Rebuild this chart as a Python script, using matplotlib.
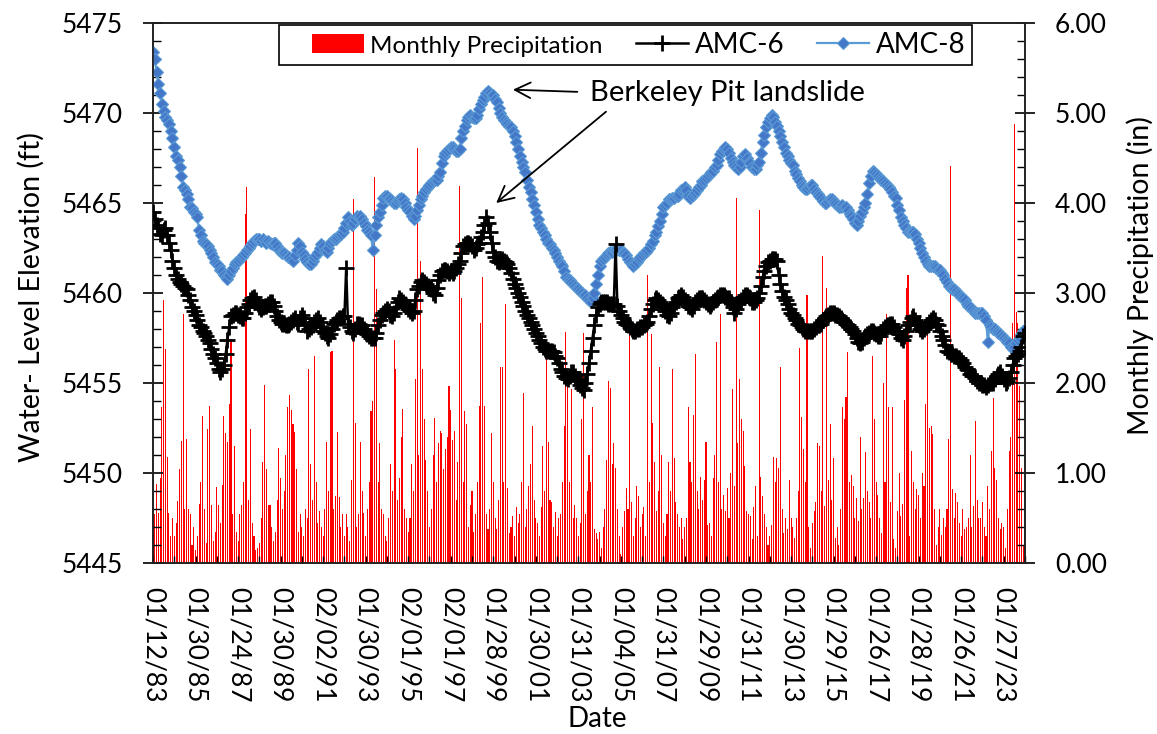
import matplotlib
matplotlib.use("Agg")
import matplotlib.pyplot as plt
from matplotlib.patches import Patch, Rectangle
from matplotlib.lines import Line2D
from matplotlib.ticker import MultipleLocator, FixedLocator, FormatStrFormatter
import numpy as np

plt.rcParams['font.family'] = ['Lato', 'DejaVu Sans']

# ---------------- data (monthly, Jan 1983 .. Jan 2024) ----------------
tick_labels = ["01/12/83", "01/30/85", "01/24/87", "01/30/89", "02/02/91", "01/30/93",
               "02/01/95", "02/01/97", "01/28/99", "01/30/01", "01/31/03", "01/04/05",
               "01/31/07", "01/29/09", "01/31/11", "01/30/13", "01/29/15", "01/26/17",
               "01/28/19", "01/26/21", "01/27/23"]

amc8 = [
    5473.4, 5473.0, 5472.3, 5471.6, 5471.1, 5470.5, 5470.1, 5469.8, 5469.6, 5469.4, 5469.0, 5468.6,
    5468.1, 5467.6, 5467.4, 5467.0, 5466.5, 5465.9, 5465.7, 5465.5, 5465.2, 5464.8, 5464.7, 5464.5,
    5464.4, 5464.2, 5463.5, 5463.2, 5462.9, 5462.8, 5462.7, 5462.6, 5462.4, 5462.2, 5462.0, 5461.7,
    5461.6, 5461.5, 5461.3, 5461.2, 5461.0, 5460.9, 5460.8, 5461.0, 5461.2, 5461.4, 5461.6, 5461.7,
    5461.8, 5461.9, 5462.0, 5462.1, 5462.2, 5462.4, 5462.5, 5462.6, 5462.8, 5462.9, 5463.0, 5463.0,
    5463.0, 5462.9, 5463.0, 5462.9, 5462.8, 5462.9, 5462.8, 5462.7, 5462.8, 5462.8, 5462.6, 5462.4,
    5462.3, 5462.2, 5462.2, 5462.1, 5462.0, 5462.0, 5461.9, 5461.8, 5462.1, 5462.4, 5462.8, 5462.6,
    5462.3, 5462.1, 5461.9, 5461.7, 5461.6, 5461.6, 5461.8, 5462.0, 5462.1, 5462.3, 5462.5, 5462.7,
    5462.6, 5462.4, 5462.3, 5462.5, 5462.8, 5462.9, 5463.0, 5463.0, 5463.1, 5463.2, 5463.3, 5463.4,
    5463.6, 5463.9, 5464.2, 5464.0, 5463.8, 5463.9, 5464.1, 5464.3, 5464.2, 5464.3, 5464.1, 5463.9,
    5463.7, 5463.5, 5463.4, 5463.2, 5462.4, 5463.2, 5463.8, 5464.2, 5464.5, 5464.9, 5465.3, 5465.4,
    5465.4, 5465.3, 5465.2, 5465.1, 5465.0, 5465.0, 5465.1, 5465.2, 5465.3, 5465.2, 5465.0, 5464.8,
    5464.6, 5464.5, 5464.3, 5464.1, 5464.3, 5464.6, 5464.9, 5465.2, 5465.4, 5465.6, 5465.8, 5465.9,
    5466.0, 5466.1, 5466.2, 5466.3, 5466.3, 5466.5, 5466.7, 5467.2, 5467.6, 5467.8, 5467.9, 5468.0,
    5468.1, 5468.1, 5468.0, 5467.9, 5467.9, 5468.0, 5468.6, 5469.0, 5469.3, 5469.6, 5469.8, 5469.9,
    5469.8, 5469.7, 5469.7, 5469.9, 5470.2, 5470.5, 5470.7, 5470.9, 5471.1, 5471.2, 5471.1, 5471.0,
    5471.0, 5470.8, 5470.6, 5470.3, 5470.0, 5469.8, 5469.6, 5469.5, 5469.4, 5469.3, 5469.2, 5469.0,
    5468.7, 5468.4, 5468.0, 5467.6, 5467.3, 5467.0, 5466.7, 5466.3, 5465.9, 5465.6, 5465.2, 5464.9,
    5464.5, 5464.1, 5463.8, 5463.6, 5463.4, 5463.2, 5463.0, 5462.8, 5462.7, 5462.5, 5462.4, 5462.2,
    5462.0, 5461.8, 5461.6, 5461.5, 5461.2, 5460.9, 5460.8, 5460.7, 5460.6, 5460.5, 5460.4, 5460.3,
    5460.2, 5460.1, 5460.0, 5459.9, 5459.9, 5459.7, 5459.6, 5459.5, 5459.7, 5460.0, 5460.5, 5461.0,
    5461.5, 5461.8, 5461.9, 5462.0, 5462.1, 5462.2, 5462.3, 5462.3, 5462.4, 5462.4, 5462.5, 5462.4,
    5462.4, 5462.3, 5462.2, 5462.1, 5461.9, 5461.7, 5461.6, 5461.5, 5461.6, 5461.7, 5461.9, 5462.0,
    5462.1, 5462.2, 5462.3, 5462.4, 5462.5, 5462.7, 5462.9, 5463.2, 5463.4, 5463.7, 5464.0, 5464.4,
    5464.8, 5464.9, 5465.0, 5465.2, 5465.2, 5465.3, 5465.3, 5465.4, 5465.4, 5465.5, 5465.7, 5465.8,
    5465.9, 5465.7, 5465.4, 5465.3, 5465.4, 5465.5, 5465.6, 5465.7, 5465.9, 5466.0, 5466.2, 5466.3,
    5466.4, 5466.5, 5466.6, 5466.7, 5466.8, 5467.0, 5467.1, 5467.4, 5467.7, 5467.9, 5468.0, 5468.1,
    5468.0, 5467.8, 5467.5, 5467.3, 5467.1, 5467.0, 5466.9, 5467.0, 5467.3, 5467.6, 5467.7, 5467.5,
    5467.3, 5467.2, 5467.0, 5466.9, 5466.9, 5467.1, 5467.3, 5467.8, 5468.4, 5468.8, 5469.2, 5469.5,
    5469.7, 5469.9, 5469.8, 5469.5, 5469.3, 5469.0, 5468.7, 5468.4, 5468.1, 5467.8, 5467.6, 5467.4,
    5467.2, 5467.1, 5466.8, 5466.6, 5466.4, 5466.2, 5466.0, 5465.9, 5465.8, 5465.8, 5465.9, 5466.0,
    5466.0, 5465.8, 5465.6, 5465.5, 5465.4, 5465.3, 5465.1, 5465.0, 5465.0, 5465.1, 5465.2, 5465.2,
    5465.1, 5465.0, 5464.9, 5464.8, 5464.8, 5464.9, 5464.8, 5464.8, 5464.6, 5464.4, 5464.3, 5464.1,
    5463.9, 5463.8, 5464.0, 5464.3, 5464.5, 5464.8, 5465.0, 5465.5, 5466.1, 5466.5, 5466.8, 5466.7,
    5466.6, 5466.5, 5466.4, 5466.3, 5466.2, 5466.1, 5466.0, 5465.9, 5465.8, 5465.6, 5465.4, 5465.3,
    5464.9, 5464.6, 5464.2, 5464.0, 5463.8, 5463.6, 5463.4, 5463.4, 5463.4, 5463.4, 5463.3, 5463.0,
    5462.8, 5462.5, 5462.2, 5462.0, 5461.8, 5461.6, 5461.5, 5461.5, 5461.5, 5461.5, 5461.4, 5461.3,
    5461.3, 5461.1, 5461.0, 5460.8, 5460.6, 5460.4, 5460.3, 5460.2, 5460.2, 5460.1, 5460.0, 5459.9,
    5459.8, 5459.7, 5459.6, 5459.4, 5459.3, 5459.2, 5459.1, 5459.0, 5458.9, 5458.9, 5458.9, 5458.9,
    5458.9, 5458.7, 5458.5, 5457.3, 5458.2, 5458.1, 5458.0, 5458.0, 5457.9, 5457.8, 5457.7, 5457.6,
    5457.5, 5457.4, 5457.3, 5457.2, 5457.0, 5456.9, 5457.0, 5457.2, 5457.4, 5457.5, 5457.7, 5457.9,
    5458.0]

amc6 = [
    5464.5, 5464.1, 5463.8, 5463.6, 5463.3, 5463.2, 5463.5, 5463.6, 5463.2, 5462.8, 5462.4, 5461.8,
    5461.4, 5461.0, 5460.8, 5460.6, 5460.5, 5460.4, 5460.3, 5460.2, 5459.9, 5459.6, 5459.2, 5459.0,
    5458.8, 5458.5, 5458.2, 5458.1, 5457.9, 5457.8, 5457.6, 5457.4, 5457.2, 5456.9, 5456.6, 5456.4,
    5456.1, 5455.8, 5455.6, 5455.8, 5456.0, 5456.6, 5457.4, 5458.1, 5458.7, 5458.8, 5458.9, 5458.9,
    5458.8, 5458.7, 5458.6, 5458.6, 5458.9, 5459.2, 5459.4, 5459.6, 5459.7, 5459.8, 5459.6, 5459.4,
    5459.2, 5459.1, 5459.2, 5459.3, 5459.3, 5459.4, 5459.5, 5459.5, 5459.3, 5459.0, 5458.7, 5458.5,
    5458.4, 5458.3, 5458.3, 5458.2, 5458.2, 5458.3, 5458.4, 5458.5, 5458.6, 5458.4, 5458.3, 5458.6,
    5458.8, 5458.6, 5458.2, 5457.9, 5458.0, 5458.1, 5458.2, 5458.4, 5458.5, 5458.6, 5458.4, 5458.1,
    5457.9, 5457.8, 5457.6, 5457.5, 5457.7, 5458.0, 5458.3, 5458.4, 5458.5, 5458.6, 5458.6, 5458.7,
    5458.7, 5461.4, 5458.3, 5458.1, 5457.9, 5457.8, 5458.0, 5458.3, 5458.3, 5458.2, 5458.2, 5458.0,
    5457.8, 5457.7, 5457.6, 5457.5, 5457.5, 5457.5, 5457.8, 5458.2, 5458.5, 5458.8, 5458.9, 5459.0,
    5459.1, 5459.0, 5458.8, 5458.7, 5458.9, 5459.2, 5459.5, 5459.7, 5459.6, 5459.5, 5459.4, 5459.3,
    5459.1, 5459.0, 5458.9, 5459.0, 5459.6, 5460.2, 5460.4, 5460.6, 5460.7, 5460.6, 5460.5, 5460.4,
    5460.3, 5460.2, 5460.0, 5459.9, 5460.3, 5460.7, 5461.0, 5461.2, 5461.3, 5461.3, 5461.2, 5461.1,
    5461.2, 5461.1, 5461.2, 5461.4, 5461.6, 5461.8, 5462.2, 5462.6, 5462.7, 5462.8, 5462.8, 5462.7,
    5462.6, 5462.4, 5462.5, 5462.7, 5462.8, 5463.1, 5463.4, 5463.8, 5464.2, 5463.9, 5463.4, 5462.8,
    5462.3, 5462.0, 5461.8, 5461.7, 5461.8, 5461.9, 5461.8, 5461.7, 5461.6, 5461.4, 5461.1, 5460.8,
    5460.5, 5460.3, 5460.0, 5459.8, 5459.5, 5459.3, 5459.0, 5458.8, 5458.6, 5458.4, 5458.2, 5458.0,
    5457.8, 5457.6, 5457.4, 5457.2, 5457.0, 5456.9, 5456.8, 5456.8, 5456.8, 5456.8, 5456.7, 5456.5,
    5456.4, 5456.1, 5455.8, 5455.6, 5455.4, 5455.3, 5455.2, 5455.4, 5455.6, 5455.6, 5455.4, 5455.2,
    5455.1, 5454.9, 5454.7, 5454.6, 5455.0, 5455.5, 5456.1, 5456.8, 5457.5, 5458.2, 5458.8, 5459.2,
    5459.4, 5459.5, 5459.5, 5459.5, 5459.5, 5459.4, 5459.4, 5459.4, 5459.4, 5462.7, 5459.3, 5459.0,
    5458.8, 5458.6, 5458.4, 5458.3, 5458.2, 5458.1, 5458.0, 5457.9, 5457.9, 5458.0, 5458.0, 5458.1,
    5458.1, 5458.2, 5458.3, 5458.4, 5458.7, 5459.1, 5459.4, 5459.6, 5459.7, 5459.6, 5459.5, 5459.4,
    5459.3, 5459.0, 5458.8, 5458.7, 5458.9, 5459.2, 5459.4, 5459.5, 5459.7, 5459.8, 5459.9, 5459.8,
    5459.6, 5459.5, 5459.3, 5459.2, 5459.1, 5459.3, 5459.5, 5459.6, 5459.7, 5459.7, 5459.7, 5459.6,
    5459.5, 5459.4, 5459.3, 5459.4, 5459.5, 5459.6, 5459.7, 5459.8, 5459.9, 5459.9, 5459.9, 5459.8,
    5459.7, 5459.7, 5459.5, 5459.2, 5458.9, 5459.1, 5459.4, 5459.5, 5459.6, 5459.8, 5459.9, 5459.9,
    5459.8, 5459.7, 5459.5, 5459.5, 5459.6, 5459.7, 5460.0, 5460.4, 5460.9, 5461.2, 5461.5, 5461.7,
    5461.8, 5461.9, 5461.9, 5461.9, 5461.8, 5461.0, 5460.5, 5460.1, 5459.8, 5459.6, 5459.4, 5459.1,
    5458.9, 5458.8, 5458.6, 5458.5, 5458.3, 5458.2, 5458.1, 5458.0, 5457.9, 5457.9, 5457.9, 5457.9,
    5457.9, 5458.0, 5458.1, 5458.2, 5458.2, 5458.3, 5458.5, 5458.6, 5458.7, 5458.8, 5458.9, 5458.9,
    5458.9, 5458.8, 5458.8, 5458.7, 5458.6, 5458.5, 5458.4, 5458.3, 5458.2, 5458.1, 5458.0, 5457.9,
    5457.7, 5457.5, 5457.3, 5457.2, 5457.3, 5457.5, 5457.6, 5457.7, 5457.8, 5457.9, 5457.9, 5457.8,
    5457.7, 5457.6, 5457.6, 5457.8, 5458.0, 5458.1, 5458.2, 5458.2, 5458.3, 5458.3, 5458.1, 5457.9,
    5457.8, 5457.7, 5457.5, 5457.4, 5457.6, 5457.9, 5458.2, 5458.4, 5458.6, 5458.7, 5458.5, 5458.3,
    5458.2, 5458.0, 5457.9, 5458.0, 5458.1, 5458.2, 5458.4, 5458.5, 5458.6, 5458.5, 5458.3, 5458.2,
    5457.9, 5457.6, 5457.4, 5457.1, 5456.8, 5456.7, 5456.6, 5456.6, 5456.5, 5456.5, 5456.4, 5456.4,
    5456.3, 5456.1, 5455.9, 5455.8, 5455.7, 5455.5, 5455.4, 5455.4, 5455.3, 5455.1, 5455.0, 5455.0,
    5454.9, 5454.9, 5454.8, 5454.9, 5455.0, 5455.0, 5455.0, 5455.2, 5455.4, 5455.5, 5455.6, 5455.4,
    5455.2, 5455.0, 5455.1, 5455.3, 5455.6, 5456.0, 5456.4, 5456.5, 5456.6, 5456.8, 5457.0, 5457.6,
    5457.8]

precip = [
    0.35, 0.55, 0.88, 0.56, 0.94, 1.73, 2.92, 2.38, 1.18, 0.56, 0.30, 0.50,
    0.30, 0.45, 0.69, 1.04, 1.36, 2.77, 0.60, 1.38, 0.60, 0.55, 0.20, 0.40,
    0.15, 0.30, 0.66, 0.90, 1.63, 0.60, 0.22, 1.49, 1.75, 0.65, 0.25, 0.35,
    0.85, 0.65, 0.45, 0.87, 1.63, 1.44, 1.35, 1.77, 2.49, 0.55, 1.30, 0.35,
    0.25, 0.55, 0.65, 0.90, 3.88, 4.18, 0.70, 1.49, 0.45, 0.30, 0.15, 0.17,
    0.22, 0.50, 1.12, 1.98, 1.05, 0.65, 0.65, 0.40, 0.25, 0.35, 0.70, 1.28,
    0.95, 0.60, 0.80, 1.20, 1.73, 1.87, 1.70, 1.55, 1.46, 1.04, 0.35, 0.55,
    0.40, 0.30, 0.60, 0.50, 2.16, 1.10, 0.70, 2.30, 0.90, 0.45, 0.58, 0.40,
    0.30, 0.60, 1.34, 0.80, 2.34, 2.36, 0.60, 0.75, 1.46, 0.73, 0.40, 0.55,
    0.30, 0.55, 0.40, 0.25, 0.92, 4.04, 1.56, 0.40, 0.55, 1.35, 0.80, 0.56,
    0.30, 0.60, 0.90, 1.69, 1.80, 4.29, 3.04, 0.90, 1.33, 0.60, 0.55, 0.30,
    0.25, 0.50, 1.10, 0.80, 2.48, 2.16, 0.70, 0.95, 1.40, 1.71, 0.60, 0.50,
    0.35, 0.50, 1.10, 0.80, 2.04, 4.61, 1.20, 3.36, 2.16, 1.60, 1.15, 0.80,
    0.40, 0.60, 1.20, 1.61, 0.90, 1.33, 1.47, 1.45, 1.04, 1.27, 1.40, 1.97,
    1.70, 1.37, 1.47, 0.70, 1.12, 4.19, 2.94, 0.90, 1.69, 1.55, 0.40, 0.64,
    0.80, 0.35, 0.55, 0.90, 1.75, 2.67, 3.18, 1.75, 0.55, 0.38, 0.60, 1.44,
    0.90, 0.50, 0.38, 0.70, 2.18, 2.18, 0.90, 2.88, 0.83, 0.33, 0.40, 0.52,
    0.30, 0.62, 0.45, 0.55, 0.90, 1.89, 0.40, 0.60, 0.86, 1.10, 1.52, 0.70,
    0.50, 0.45, 0.30, 0.62, 1.30, 0.80, 2.34, 1.35, 0.70, 0.68, 0.40, 0.57,
    0.30, 0.50, 0.55, 0.90, 1.52, 2.57, 1.97, 0.90, 1.93, 0.50, 0.64, 0.50,
    0.30, 0.45, 1.60, 2.56, 0.55, 0.80, 1.20, 0.90, 1.73, 0.38, 0.33, 0.27,
    0.35, 0.17, 0.40, 0.60, 1.14, 2.02, 1.95, 1.10, 1.33, 1.06, 0.60, 0.30,
    0.10, 0.40, 0.58, 0.83, 0.60, 2.55, 0.68, 0.30, 0.50, 0.86, 0.74, 0.40,
    0.55, 0.62, 0.30, 3.20, 0.90, 2.55, 1.56, 1.12, 0.58, 0.80, 2.18, 1.20,
    0.45, 0.30, 0.55, 1.12, 0.80, 2.16, 1.17, 0.68, 0.55, 0.40, 0.50, 0.27,
    0.40, 0.50, 1.73, 1.12, 0.90, 1.64, 2.32, 0.80, 0.60, 0.96, 0.70, 0.92,
    1.35, 0.42, 0.45, 0.30, 0.95, 1.20, 2.46, 0.90, 2.77, 0.60, 0.76, 0.58,
    0.83, 0.50, 1.00, 1.93, 0.86, 4.06, 1.33, 2.04, 1.60, 1.47, 1.08, 0.58,
    0.55, 0.52, 0.27, 0.62, 0.86, 0.30, 3.92, 0.96, 0.74, 0.55, 0.40, 0.20,
    0.30, 0.42, 1.18, 0.90, 1.17, 1.06, 2.18, 0.60, 0.33, 0.50, 0.38, 0.92,
    0.50, 0.40, 0.28, 0.50, 0.80, 2.39, 1.62, 1.27, 0.90, 2.98, 0.40, 0.17,
    0.45, 0.58, 0.68, 1.33, 1.30, 0.80, 3.41, 0.63, 3.06, 0.92, 1.55, 0.70,
    1.17, 0.28, 0.40, 0.20, 0.60, 1.73, 1.60, 1.84, 2.34, 0.90, 0.98, 0.86,
    0.50, 0.72, 0.47, 1.40, 0.60, 0.72, 1.23, 0.80, 0.68, 0.50, 2.30, 1.60,
    0.90, 0.76, 0.50, 0.33, 2.00, 0.90, 2.77, 1.73, 0.68, 1.73, 0.27, 0.17,
    0.58, 1.00, 0.52, 0.66, 1.81, 3.06, 3.20, 0.30, 1.24, 0.90, 0.60, 0.82,
    0.76, 0.50, 1.00, 0.86, 1.77, 2.63, 1.50, 1.52, 1.43, 0.60, 0.20, 0.40,
    0.60, 0.31, 0.50, 0.40, 0.60, 1.38, 4.41, 0.82, 0.50, 0.78, 0.68, 0.45,
    0.30, 0.60, 0.38, 0.40, 0.50, 1.20, 0.40, 0.63, 1.58, 0.70, 0.50, 0.50,
    0.68, 0.40, 0.30, 0.86, 0.60, 1.25, 1.83, 1.06, 0.92, 0.50, 0.38, 0.45,
    0.40, 0.17, 0.60, 1.25, 1.40, 2.67, 4.88, 2.79, 2.67, 1.97, 1.06, 0.20,
    0.30]

n = len(amc8)
x = np.arange(n)

# ---------------- figure ----------------
W, H = 1157, 734
fig = plt.figure(figsize=(W / 100, H / 100), dpi=100)
L, R, T, B = 153, 1025, 23, 563
ax = fig.add_axes([L / W, 1 - B / H, (R - L) / W, (B - T) / H])
ax2 = ax.twinx()

ax2.bar(x, precip, width=0.6, color='#ff0000', linewidth=0, zorder=1)
ax2.set_ylim(0, 6)

ax.set_zorder(ax2.get_zorder() + 1)
ax.patch.set_visible(False)

ax.plot(x, amc6, color='black', lw=1.8, marker='+', ms=11, mew=2.0, zorder=3)
ax.plot(x, amc8, color='#5b9bd5', lw=1.6, marker='D', ms=6.5, mfc='#4577c9',
        mec='#5b9bd5', mew=0.8, zorder=2)

ax.set_xlim(0, n - 1)
ax.set_ylim(5445, 5475)

fs = 19
ax.yaxis.set_major_locator(MultipleLocator(5))
ax.yaxis.set_minor_locator(MultipleLocator(1))
ax2.yaxis.set_major_locator(MultipleLocator(1))
ax2.yaxis.set_minor_locator(MultipleLocator(0.2))
ax2.yaxis.set_major_formatter(FormatStrFormatter('%.2f'))

ax.xaxis.set_major_locator(FixedLocator(list(range(0, 24 * len(tick_labels), 24))))
ax.set_xticklabels(tick_labels, rotation=270, fontsize=19)
ax.xaxis.set_minor_locator(FixedLocator(list(range(12, n, 24))))

ax.tick_params(axis='y', which='major', direction='inout', length=15, width=1.2,
               labelsize=fs, pad=14)
ax.tick_params(axis='y', which='minor', direction='in', length=6, width=1.0)
ax2.tick_params(axis='y', which='major', direction='inout', length=15, width=1.2,
                labelsize=fs, pad=14)
ax2.tick_params(axis='y', which='minor', direction='in', length=6, width=1.0)
ax.tick_params(axis='x', which='both', direction='in', length=5, width=1.0, pad=17)
ax2.tick_params(axis='x', which='both', bottom=False, top=False, labelbottom=False)

for a in (ax, ax2):
    for s in a.spines.values():
        s.set_linewidth(1.2)
        s.set_color('#222222')

ax.set_ylabel('Water- Level Elevation (ft)', fontsize=20.5, va='center')
ax.yaxis.set_label_coords(-0.139, 0.493)
ax2.set_ylabel('Monthly Precipitation (in)', fontsize=20.5, va='center')
ax2.yaxis.set_label_coords(1.132, 0.533)
ax.set_xlabel('Date', fontsize=20, va='center')
ax.xaxis.set_label_coords(0.51, -0.288)

# annotation
ax.text(246.6, 5471.1, 'Berkeley Pit landslide', fontsize=21, ha='left', va='center')
ax.annotate('', xy=(201.5, 5471.3), xytext=(241, 5471.17),
            arrowprops=dict(arrowstyle='->', color='black', lw=1.3, mutation_scale=28))
ax.annotate('', xy=(192.4, 5464.9), xytext=(256.8, 5470.17),
            arrowprops=dict(arrowstyle='->', color='black', lw=1.3, mutation_scale=28))

# legend: frame drawn as a box, entries placed inside it
ax.add_patch(Rectangle(((279 - L) / (R - L), 1 - (65 - T) / (B - T)),
                       (972 - 279) / (R - L), 40 / (B - T),
                       transform=ax.transAxes, facecolor='white', edgecolor='black',
                       linewidth=1.2, zorder=4, clip_on=False))
handles = [Patch(facecolor='#ff0000', edgecolor='none'),
           Line2D([], [], color='black', lw=1.8, marker='+', ms=11, mew=2.0),
           Line2D([], [], color='#5b9bd5', lw=1.6, marker='D', ms=6.5, mfc='#4577c9',
                  mec='#5b9bd5', mew=0.8)]
labels = ['Monthly Precipitation', 'AMC-6', 'AMC-8']
leg = ax.legend(handles, labels, loc='center left',
                bbox_to_anchor=((312 - L) / (R - L), 1 - (45 - T) / (B - T)),
                ncol=3, frameon=False, fontsize=20, handlelength=1.87,
                handletextpad=0.23, columnspacing=1.2, borderaxespad=0,
                numpoints=1, borderpad=0)
leg.set_zorder(5)
leg.get_texts()[0].set_fontsize(17.5)

fig.savefig('out.png', dpi=100)
